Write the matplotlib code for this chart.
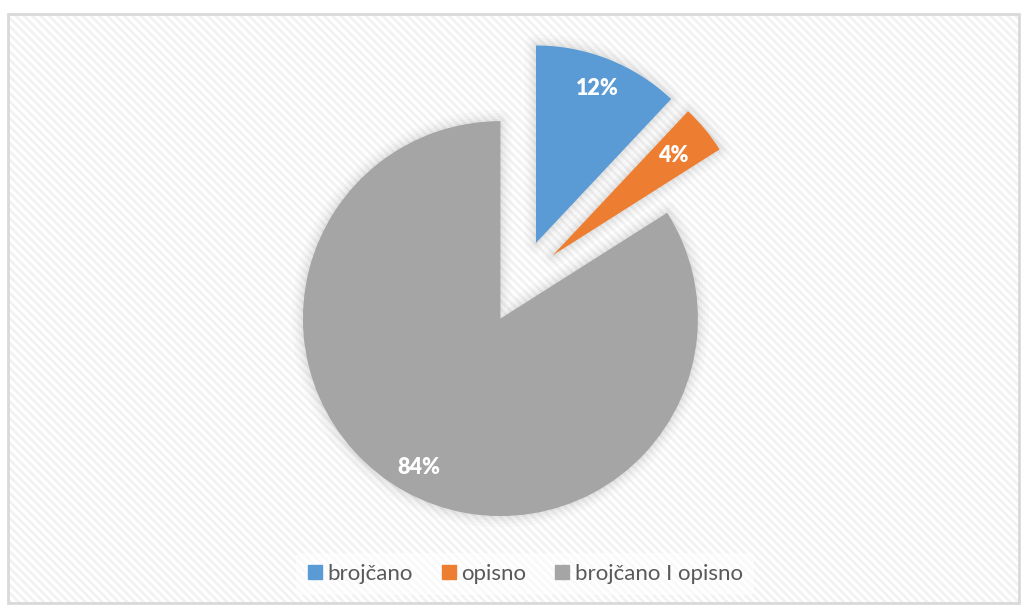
import matplotlib
matplotlib.use("Agg")
import math
import matplotlib.pyplot as plt
from matplotlib.patches import Rectangle, Wedge
from matplotlib.lines import Line2D

categories = ["brojčano", "opisno", "brojčano I opisno"]
values = [12, 4, 84]
colors = ["#5B9BD5", "#ED7D31", "#A5A5A5"]

W, H = 1022, 605
fig = plt.figure(figsize=(W / 100, H / 100), dpi=100)
ax = fig.add_axes([0, 0, 1, 1])

plt.rcParams["hatch.linewidth"] = 2.0
FONT = ["Lato", "DejaVu Sans"]

cx, cy = 520.6, H - 281.9
R = 197.5
explode = [0.212 * R] * 3
label_dist = [0.84, 0.79, 0.86]

wedges, texts, autotexts = ax.pie(
    values, colors=colors, startangle=90, counterclock=False,
    center=(cx, cy), radius=R, explode=explode,
    autopct="%.0f%%", pctdistance=0.84,
    wedgeprops=dict(linewidth=0, zorder=3),
    textprops=dict(color="white", fontsize=15.5, fontweight="heavy", family=FONT),
    frame=True,
)
for w, t, d in zip(wedges, autotexts, label_dist):
    th = math.radians((w.theta1 + w.theta2) / 2)
    t.set_position((w.center[0] + d * w.r * math.cos(th),
                    w.center[1] + d * w.r * math.sin(th)))
    t.set_zorder(6)

ax.set_xlim(0, W)
ax.set_ylim(0, H)
ax.set_aspect("equal")
ax.axis("off")

# background with diagonal texture
bg = Rectangle((8, 2), 1011, 589, facecolor="white", edgecolor="#f2f2f2",
               hatch="\\\\\\\\", linewidth=0, zorder=0)
ax.add_patch(bg)
border = Rectangle((8, 2), 1011, 589, facecolor="none", edgecolor="#d9d9d9",
                   linewidth=2, zorder=5)
ax.add_patch(border)

# soft shadow glow
for w in wedges:
    for lw, a in [(16, 0.03), (11, 0.04), (7, 0.05), (3, 0.07)]:
        s = Wedge(w.center, w.r, w.theta1, w.theta2, facecolor="none",
                  edgecolor="#7f7f7f", linewidth=lw, alpha=a, zorder=2,
                  joinstyle="round")
        ax.add_patch(s)

handles = [Line2D([0], [0], marker="s", linestyle="none", markersize=9.4,
                  markerfacecolor=c, markeredgecolor=c) for c in colors]
leg = ax.legend(handles, categories, loc="center", bbox_to_anchor=(525 / W, 1 - 574 / H),
                ncol=3, frameon=True, handletextpad=0.22, handlelength=0.7,
                columnspacing=1.27, borderpad=0.5, borderaxespad=0,
                prop=dict(family=FONT, size=16))
leg.get_frame().set_facecolor("white")
leg.get_frame().set_alpha(0.6)
leg.get_frame().set_edgecolor("none")
for t in leg.get_texts():
    t.set_color("#595959")

fig.savefig("out.png", dpi=100)
